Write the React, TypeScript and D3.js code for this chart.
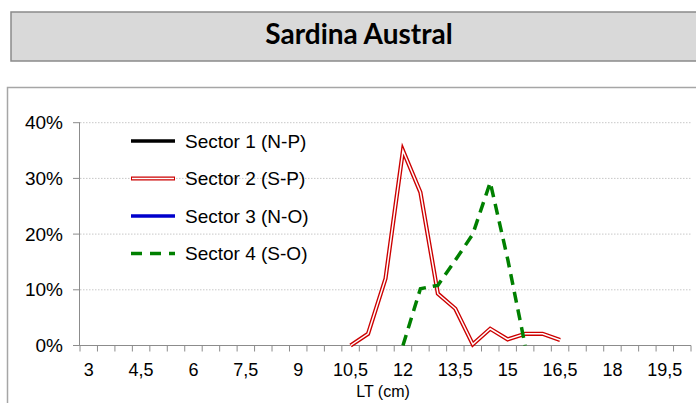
import React from 'react';
import * as d3 from 'd3';

const lengths = [
  '3', '3,5', '4', '4,5', '5', '5,5', '6', '6,5', '7', '7,5', '8', '8,5',
  '9', '9,5', '10', '10,5', '11', '11,5', '12', '12,5', '13', '13,5', '14', '14,5',
  '15', '15,5', '16', '16,5', '17', '17,5', '18', '18,5', '19', '19,5', '20',
];
const shownLabels = ['3', '4,5', '6', '7,5', '9', '10,5', '12', '13,5', '15', '16,5', '18', '19,5'];
const yTicks = [0, 0.1, 0.2, 0.3, 0.4];

// Sector 2 (S-P)
const s2Lengths = ['10,5', '11', '11,5', '12', '12,5', '13', '13,5', '14', '14,5', '15', '15,5', '16', '16,5'];
const s2Values = [0, 0.021, 0.12, 0.35, 0.275, 0.093, 0.066, 0.002, 0.03, 0.011, 0.021, 0.021, 0.01];
// Sector 4 (S-O)
const s4Lengths = ['12', '12,5', '13', '13,5', '14', '14,5', '15', '15,5'];
const s4Values = [0, 0.102, 0.108, 0.153, 0.2, 0.293, 0.155, 0];

const legendItems = ['Sector 1 (N-P)', 'Sector 2 (S-P)', 'Sector 3 (N-O)', 'Sector 4 (S-O)'];

const W = 696;
const H = 403;
const plot = { left: 80, right: 691, top: 122.7, bottom: 345.5 };
const font = '"Liberation Sans", Arial, sans-serif';

export default function App() {
  const x = d3.scaleBand<string>().domain(lengths).range([plot.left, plot.right]).padding(0);
  const y = d3.scaleLinear().domain([0, 0.4]).range([plot.bottom, plot.top]);
  const cx = (c: string) => (x(c) as number) + x.bandwidth() / 2;

  const line = d3
    .line<[string, number]>()
    .x((d) => cx(d[0]))
    .y((d) => y(d[1]));

  const s2 = line(s2Lengths.map((c, i) => [c, s2Values[i]])) || '';
  const s4 = line(s4Lengths.map((c, i) => [c, s4Values[i]])) || '';

  const boundaries = d3.range(lengths.length + 1).map((i) => plot.left + i * x.bandwidth());
  const axisColor = '#8c8c8c';

  return (
    <svg
      width={W}
      height={H}
      style={{ position: 'absolute', left: 0, top: 0, background: '#fff' }}
      fontFamily={font}
    >
      {/* title box */}
      <rect x={11} y={12} width={W} height={49} fill="#d9d9d9" stroke="#8a8a8a" strokeWidth={1.5} />
      <text
        x={359}
        y={44}
        textAnchor="middle"
        fontFamily='Lato, "Open Sans", sans-serif'
        fontWeight="bold"
        fontSize={28}
        fill="#000"
      >
        Sardina Austral
      </text>

      {/* chart box */}
      <rect x={7.5} y={87.5} width={W} height={H} fill="#fff" stroke="#a6a6a6" strokeWidth={1.5} />

      {/* gridlines */}
      {yTicks.slice(1).map((t) => (
        <line
          key={t}
          x1={plot.left}
          x2={plot.right}
          y1={y(t)}
          y2={y(t)}
          stroke="#c8c8c8"
          strokeWidth={1}
          strokeDasharray="1.5 1.5"
        />
      ))}

      {/* y axis */}
      <line x1={plot.left - 0.5} x2={plot.left - 0.5} y1={plot.top} y2={plot.bottom} stroke={axisColor} />
      {yTicks.map((t) => (
        <g key={t}>
          <line x1={plot.left - 7} x2={plot.left} y1={y(t)} y2={y(t)} stroke={axisColor} />
          <text x={plot.left - 17} y={y(t) + 6.5} textAnchor="end" fontSize={19} fill="#000">
            {`${Math.round(t * 100)}%`}
          </text>
        </g>
      ))}

      {/* x axis */}
      <line x1={plot.left} x2={plot.right} y1={plot.bottom} y2={plot.bottom} stroke={axisColor} />
      {boundaries.map((b, i) => (
        <line key={i} x1={b} x2={b} y1={plot.bottom} y2={plot.bottom + 6} stroke={axisColor} />
      ))}
      {shownLabels.map((c) => (
        <text key={c} x={cx(c)} y={plot.bottom + 30} textAnchor="middle" fontSize={18} fill="#000">
          {c}
        </text>
      ))}
      <text x={383} y={397} textAnchor="middle" fontSize={16} fill="#000">
        LT (cm)
      </text>

      {/* series */}
      <path d={s2} fill="none" stroke="#cc0000" strokeWidth={4.2} strokeLinejoin="miter" />
      <path d={s2} fill="none" stroke="#fff" strokeWidth={1.5} strokeLinejoin="miter" />
      <path d={s4} fill="none" stroke="#008000" strokeWidth={3.5} strokeDasharray="11 7" />

      {/* legend */}
      {legendItems.map((label, i) => {
        const ly = 141 + i * 37.5;
        return (
          <g key={label}>
            {i === 0 && <line x1={131} x2={175} y1={ly} y2={ly} stroke="#000" strokeWidth={3.5} />}
            {i === 1 && (
              <>
                <line x1={131} x2={175} y1={ly} y2={ly} stroke="#cc0000" strokeWidth={4.2} />
                <line x1={132} x2={174} y1={ly} y2={ly} stroke="#fff" strokeWidth={1.5} />
              </>
            )}
            {i === 2 && <line x1={131} x2={175} y1={ly} y2={ly} stroke="#0000cc" strokeWidth={3.5} />}
            {i === 3 && (
              <line x1={131} x2={175} y1={ly} y2={ly} stroke="#008000" strokeWidth={3.5} strokeDasharray="11 8" />
            )}
            <text x={185} y={ly + 6.8} fontSize={19} fill="#000">
              {label}
            </text>
          </g>
        );
      })}
    </svg>
  );
}
